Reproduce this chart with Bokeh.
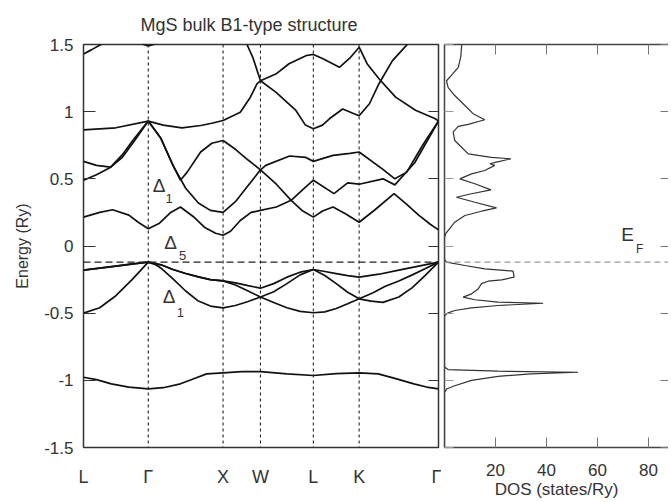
import numpy as np
from bokeh.plotting import figure
from bokeh.layouts import row
from bokeh.models import Range1d, FixedTicker, Span, Label, LinearAxis
from bokeh.embed import file_html
from bokeh.resources import INLINE

# ---------------- data ----------------
kpoint_labels = ["L", "Γ", "X", "W", "L", "K", "Γ"]
kpoint_pos = [0.0, 0.866, 1.866, 2.366, 3.073, 3.685, 4.746]
fermi_level = -0.12
energy_ticks = [-1.5, -1.0, -0.5, 0.0, 0.5, 1.0, 1.5]
energy_tick_labels = ["-1.5", "-1", "-0.5", "0", "0.5", "1", "1.5"]
dos_ticks = [20, 40, 60, 80]

# band points: (path index, energy Ry); index i+f lies fraction f between point i and i+1
band_s = [(0, -0.977), (0.2, -0.995), (0.43, -1.026), (0.7, -1.05), (1, -1.063), (1.2, -1.055),
          (1.43, -1.026), (1.6, -0.99), (1.78, -0.952), (2, -0.944), (2.5, -0.935), (3, -0.935),
          (3.5, -0.952), (4, -0.964), (4.5, -0.95), (5, -0.944), (5.24, -0.952), (5.45, -0.985),
          (5.69, -1.026), (5.85, -1.05), (6, -1.063)]
band_v1 = [(0, -0.18), (0.25, -0.165), (0.5, -0.15), (0.75, -0.133), (1, -0.12), (1.17, -0.14),
           (1.33, -0.175), (1.5, -0.205), (1.67, -0.23), (1.83, -0.25), (2, -0.26), (2.33, -0.275),
           (2.67, -0.295), (3, -0.314), (3.25, -0.28), (3.5, -0.232), (3.75, -0.195), (4, -0.175),
           (4.25, -0.19), (4.5, -0.205), (4.75, -0.22), (5, -0.232), (5.25, -0.21), (5.5, -0.18),
           (5.75, -0.15), (6, -0.12)]
band_v2 = [(0, -0.18), (0.5, -0.15), (1, -0.12), (1.1, -0.14), (1.17, -0.165), (1.33, -0.245),
           (1.5, -0.335), (1.67, -0.41), (1.83, -0.447), (2, -0.46), (2.33, -0.443), (2.67, -0.413),
           (3, -0.38), (3.25, -0.34), (3.5, -0.28), (3.75, -0.215), (4, -0.175), (4.25, -0.22),
           (4.5, -0.28), (4.75, -0.344), (5, -0.393), (5.17, -0.35), (5.33, -0.30), (5.5, -0.26),
           (5.67, -0.215), (5.83, -0.17), (6, -0.12)]
band_v3 = [(0, -0.50), (0.25, -0.46), (0.5, -0.37), (0.75, -0.25), (1, -0.12), (1.17, -0.14),
           (1.33, -0.175), (1.5, -0.205), (1.67, -0.23), (1.83, -0.25), (2, -0.26), (2.33, -0.29),
           (2.67, -0.335), (3, -0.38), (3.25, -0.42), (3.5, -0.46), (3.75, -0.487), (4, -0.497),
           (4.25, -0.49), (4.5, -0.465), (4.75, -0.43), (5, -0.393), (5.15, -0.41), (5.3, -0.42),
           (5.5, -0.38), (5.67, -0.31), (5.83, -0.22), (6, -0.12)]
band_c1 = [(0, 0.215), (0.25, 0.25), (0.45, 0.27), (0.7, 0.23), (0.85, 0.175), (1, 0.128),
           (1.15, 0.17), (1.3, 0.25), (1.43, 0.29), (1.6, 0.22), (1.75, 0.14), (1.9, 0.095),
           (2, 0.08), (2.2, 0.11), (2.46, 0.19), (2.75, 0.25), (3, 0.265), (3.3, 0.29),
           (3.58, 0.34), (3.8, 0.42), (4, 0.49), (4.45, 0.39), (4.75, 0.47), (5, 0.46),
           (5.3, 0.50), (5.45, 0.455), (5.7, 0.62), (6, 0.93)]
band_c2 = [(1, 0.93), (1.17, 0.80), (1.33, 0.60), (1.43, 0.49), (1.52, 0.55), (1.7, 0.70),
           (1.85, 0.765), (2, 0.785), (2.33, 0.72), (2.67, 0.64), (3, 0.567), (3.3, 0.46),
           (3.58, 0.34), (3.8, 0.26), (4, 0.215), (4.2, 0.26), (4.43, 0.29), (4.7, 0.24),
           (5, 0.177), (5.2, 0.27), (5.44, 0.39), (5.6, 0.31), (5.75, 0.23), (5.9, 0.16), (6, 0.12)]
band_c3 = [(1, 0.93), (1.17, 0.80), (1.33, 0.60), (1.5, 0.43), (1.67, 0.32), (1.83, 0.265),
           (2, 0.25), (2.33, 0.33), (2.67, 0.45), (3, 0.567), (3.1, 0.6), (3.55, 0.67),
           (3.85, 0.66), (4, 0.63), (4.43, 0.675), (4.8, 0.69), (5, 0.70), (5.3, 0.57),
           (5.45, 0.5), (5.6, 0.55), (5.8, 0.75), (6, 0.93)]
band_c4 = [(0, 0.49), (0.2, 0.53), (0.42, 0.587), (0.6, 0.68), (0.76, 0.785), (1, 0.93)]
band_c5 = [(0, 0.63), (0.2, 0.60), (0.42, 0.587), (0.6, 0.66), (0.79, 0.785), (1, 0.93)]
band_c6 = [(0, 0.865), (0.5, 0.88), (1, 0.93), (1.2, 0.9), (1.45, 0.88), (1.7, 0.897),
           (1.85, 0.914), (2, 0.934), (2.46, 0.996), (2.73, 1.108), (2.91, 1.208), (3, 1.23),
           (3.29, 1.145), (3.67, 1.009), (3.85, 0.9), (4, 0.873), (4.2, 0.9), (4.35, 0.947),
           (4.64, 1.02), (4.85, 0.99), (5, 0.97), (5.13, 1.059), (5.25, 1.208), (5.42, 1.38),
           (5.59, 1.49), (5.7, 1.57)]
band_c7 = [(2.64, 1.5), (2.8, 1.4), (3, 1.23), (3.29, 1.28), (3.54, 1.357), (3.87, 1.418),
           (4, 1.426), (4.21, 1.394), (4.57, 1.33), (4.8, 1.4), (5, 1.48), (5.1, 1.357),
           (5.25, 1.245), (5.46, 1.108), (5.71, 1.01), (5.96, 0.947), (6, 0.93)]
band_c8 = [(0, 1.43), (0.12, 1.46), (0.27, 1.5), (0.4, 1.55)]
band_c9 = [(0.8, 1.52), (1, 1.49), (1.2, 1.52)]

dos_energy = [1.50, 1.49, 1.41, 1.33, 1.27, 1.23, 1.18, 1.12, 1.046, 0.985, 0.94, 0.905, 0.89,
              0.85, 0.785, 0.735, 0.686, 0.674, 0.66, 0.649, 0.624, 0.612, 0.60, 0.562, 0.537,
              0.50, 0.463, 0.418, 0.389, 0.363, 0.326, 0.284, 0.259, 0.227, 0.177, 0.115, 0.09,
              0.06, -0.10, -0.12, -0.145, -0.17, -0.187, -0.232, -0.252, -0.262, -0.28, -0.32,
              -0.356, -0.381, -0.40, -0.418, -0.426, -0.443, -0.46, -0.48, -0.50, -0.52, -0.90,
              -0.92, -0.932, -0.94, -0.952, -0.97, -1.0, -1.04, -1.065, -1.09, -1.5]
dos_states = [6.8, 6.7, 6.4, 5.4, 2.7, 0.8, 1.4, 4, 8, 11.2, 15.8, 9.3, 5.4,
              3.4, 4, 6.7, 9.3, 13.2, 18.4, 26, 20.4, 17.8, 19.7, 15.8, 10.6,
              6, 11.9, 18.2, 10.6, 4.7, 11.9, 20.4, 14.5, 8, 4, 1.4, 0.4,
              0, 0, 0.8, 8, 15.8, 26.9, 27.3, 22.4, 17.1, 14.5, 13.2,
              10.6, 7.3, 11.9, 21, 38.7, 21, 10.6, 4, 1.2, 0, 0,
              1.4, 21, 52.4, 34, 21, 10.6, 4, 0.8, 0, 0]

bands = [band_s, band_v1, band_v2, band_v3, band_c1, band_c2, band_c3, band_c4,
         band_c5, band_c6, band_c7, band_c8, band_c9]

FONT = "Liberation Sans"
TXT = "#333333"


def path_to_k(idx):
    return np.interp(idx, np.arange(len(kpoint_pos)), kpoint_pos)


def hide_labels(ax):
    ax.major_label_text_font_size = "0px"
    ax.major_label_text_color = None
    ax.major_label_standoff = 0


# ---------------- band structure panel ----------------
p = figure(frame_width=355, frame_height=403, x_range=Range1d(kpoint_pos[0], kpoint_pos[-1]),
           y_range=Range1d(-1.5, 1.5), output_backend="svg", toolbar_location=None,
           min_border_left=83, min_border_right=3, min_border_top=44, min_border_bottom=55)
p.title.text = "MgS bulk B1-type structure"
p.title.align = "left"
p.title.offset = 57
p.title.standoff = 20
p.title.text_font = FONT
p.title.text_font_size = "18px"
p.title.text_font_style = "normal"
p.title.text_color = TXT
p.grid.visible = False
p.outline_line_color = "#333333"
p.outline_line_width = 1.5
p.background_fill_color = "white"
p.border_fill_color = "white"

ya = p.yaxis[0]
ya.ticker = FixedTicker(ticks=energy_ticks)
ya.major_label_overrides = {t: s for t, s in zip(energy_ticks, energy_tick_labels)}
ya.major_tick_in = 12
ya.major_tick_out = 0
ya.minor_tick_line_color = None
ya.axis_line_color = None
ya.major_tick_line_color = "#333333"
ya.major_label_text_font = FONT
ya.major_label_text_font_size = "17px"
ya.major_label_text_color = TXT
ya.major_label_standoff = 10
ya.axis_label = "Energy (Ry)"
ya.axis_label_text_font = FONT
ya.axis_label_text_font_size = "16px"
ya.axis_label_text_font_style = "normal"
ya.axis_label_text_color = TXT
ya.axis_label_standoff = 10

xa = p.xaxis[0]
xa.ticker = FixedTicker(ticks=kpoint_pos)
xa.major_label_overrides = {t: s for t, s in zip(kpoint_pos, kpoint_labels)}
xa.major_tick_line_color = None
xa.minor_tick_line_color = None
xa.axis_line_color = None
xa.major_label_text_font = FONT
xa.major_label_text_font_size = "18px"
xa.major_label_text_color = TXT
xa.major_label_standoff = 13

ra = LinearAxis(ticker=FixedTicker(ticks=energy_ticks), major_tick_in=10, major_tick_out=0,
                axis_line_color=None, minor_tick_line_color=None,
                major_tick_line_color="#333333")
hide_labels(ra)
p.add_layout(ra, "right")

for kp in kpoint_pos[1:-1]:
    p.add_layout(Span(location=kp, dimension="height", line_color="#222222",
                      line_dash="3 3", line_width=1.1))
p.add_layout(Span(location=fermi_level, dimension="width", line_color="#222222",
                  line_dash="7 4", line_width=1.2))

for b in bands:
    idx = [pt[0] for pt in b]
    en = [pt[1] for pt in b]
    p.line(path_to_k(idx), en, line_color="#111111", line_width=1.7)


def add_label(fig, x, y, text, size="15px"):
    fig.add_layout(Label(x=x, y=y, text=text, text_font=FONT, text_font_size=size,
                         text_color=TXT, text_align="center", text_baseline="middle"))


add_label(p, path_to_k(1.145), 0.45, "Δ", "19px")
add_label(p, path_to_k(1.28), 0.35, "1", "13px")
add_label(p, path_to_k(1.30), 0.026, "Δ", "19px")
add_label(p, path_to_k(1.46), -0.07, "5", "13px")
add_label(p, path_to_k(1.28), -0.375, "Δ", "19px")
add_label(p, path_to_k(1.43), -0.495, "1", "13px")

# ---------------- DOS panel ----------------
d = figure(frame_width=224, frame_height=403, x_range=Range1d(0, 87.84),
           y_range=Range1d(-1.5, 1.5), output_backend="svg", toolbar_location=None,
           min_border_left=3, min_border_right=0, min_border_top=44, min_border_bottom=55)
d.grid.visible = False
d.outline_line_color = None
d.background_fill_color = "white"
d.border_fill_color = "white"

bx = d.xaxis[0]
bx.ticker = FixedTicker(ticks=dos_ticks)
bx.major_tick_in = 10
bx.major_tick_out = 0
bx.minor_tick_line_color = None
bx.axis_line_color = "#444444"
bx.axis_line_width = 1.5
bx.major_tick_line_color = "#777777"
bx.major_label_text_font = FONT
bx.major_label_text_font_size = "17px"
bx.major_label_text_color = TXT
bx.major_label_standoff = 16
bx.axis_label = "DOS (states/Ry)"
bx.axis_label_text_font = FONT
bx.axis_label_text_font_size = "17px"
bx.axis_label_text_font_style = "normal"
bx.axis_label_text_color = TXT
bx.axis_label_standoff = 1

ly = d.yaxis[0]
ly.ticker = FixedTicker(ticks=energy_ticks)
ly.major_tick_in = 9
ly.major_tick_out = 0
ly.minor_tick_line_color = None
ly.axis_line_color = "#444444"
ly.axis_line_width = 1.5
ly.major_tick_line_color = "#999999"
hide_labels(ly)

ta = LinearAxis(ticker=FixedTicker(ticks=dos_ticks), major_tick_in=10, major_tick_out=0,
                axis_line_color="#444444", axis_line_width=1.5, minor_tick_line_color=None,
                major_tick_line_color="#777777")
hide_labels(ta)
d.add_layout(ta, "above")
rr = LinearAxis(ticker=FixedTicker(ticks=energy_ticks), major_tick_in=8, major_tick_out=0,
                axis_line_color=None, minor_tick_line_color=None,
                major_tick_line_color="#777777")
hide_labels(rr)
d.add_layout(rr, "right")

d.add_layout(Span(location=fermi_level, dimension="width", line_color="#999999",
                  line_dash="6 4", line_width=1.2))
d.line(dos_states, dos_energy, line_color="#333333", line_width=1.2)
add_label(d, 71.8, 0.086, "E", "19px")
add_label(d, 76.5, -0.02, "F", "12px")

layout = row(p, d)
open("out.html", "w").write(file_html(layout, INLINE))
